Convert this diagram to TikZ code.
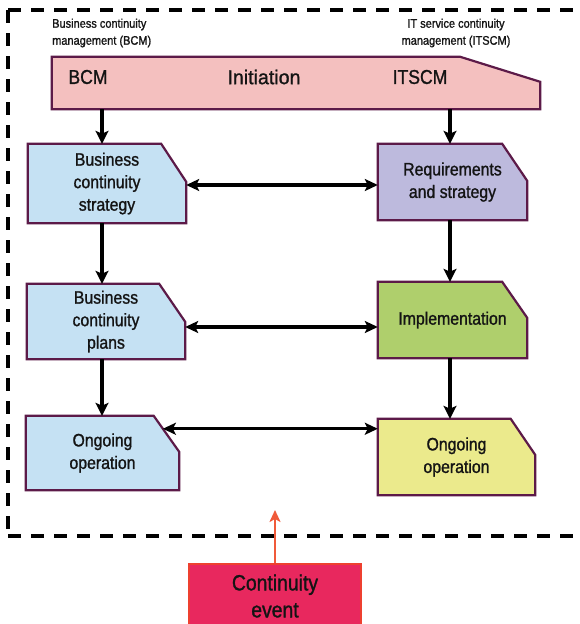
\documentclass[tikz,border=0pt]{standalone}
\usepackage{fontspec}
\setmainfont{Liberation Sans}[FakeStretch=0.88,FakeBold=1.2]
\usetikzlibrary{arrows.meta,backgrounds,calc}

\definecolor{ink}{RGB}{20,20,20}
\definecolor{edge}{RGB}{92,26,72}
\definecolor{initfill}{RGB}{244,192,191}
\definecolor{bcmfill}{RGB}{197,225,243}
\definecolor{reqfill}{RGB}{189,186,221}
\definecolor{implfill}{RGB}{175,207,108}
\definecolor{opfill}{RGB}{235,234,140}
\definecolor{eventfill}{RGB}{232,40,94}
\definecolor{eventedge}{RGB}{238,64,48}
\definecolor{eventarrow}{RGB}{240,90,58}

% chamfered outline behind a named node: name, chamfer width, chamfer height, fill
\newcommand\chamferoutline[4]{%
  \filldraw[fill=#4, draw=edge, line width=2.2pt, line join=miter]
    (#1.south west) -- (#1.north west) -- ([xshift=-#2]#1.north east)
    -- ([yshift=-#3]#1.north east) -- (#1.south east) -- cycle;}

\begin{document}
\begin{tikzpicture}[x=1pt,y=-1pt,
  stage/.style={inner sep=0pt, align=center, text=ink,
    font=\fontsize{18}{22.5}\selectfont},
  headtext/.style={inner sep=0pt, text=ink, font=\fontsize{20}{24}\selectfont},
  note/.style={inner sep=0pt, text=ink, font=\fontsize{12.5}{17}\selectfont},
  head/.style={Stealth[length=13pt,width=13pt,inset=3pt]},
  link/.style={line width=3.2pt, draw=black, -{Stealth[length=13pt,width=13pt,inset=3pt]}},
  twoway/.style={line width=3.2pt, draw=black,
    {Stealth[length=13pt,width=12pt,inset=3pt]}-{Stealth[length=13pt,width=12pt,inset=3pt]}},
  frame/.style={line width=3.8pt, draw=black, dash pattern=on 13pt off 10pt}]
\useasboundingbox (0,0) rectangle (580,624);

% dashed boundary of the continuity management scope
\draw[frame] (8,10) -- (590,10);
\draw[frame] (8,10) -- (8,536);
\draw[frame] (8,536) -- (590,536);

% column guides for the vertical flow
\coordinate (colL) at (102,0);
\coordinate (colR) at (450,0);

% headings
\node[note, align=left, anchor=west] (bcmhead) at (52,33) {Business continuity\\management (BCM)};
\node[note, align=center] (itscmhead) at (456,33) {IT service continuity\\management (ITSCM)};

% initiation band
\node[minimum width=488pt, minimum height=52pt, inner sep=0pt] (init) at (296,83) {};
\node[headtext] (initbcm) at (88,77) {BCM};
\node[headtext, font=\fontsize{20}{24}\selectfont\addfontfeatures{FakeStretch=0.98}] (initmid) at (264,77) {Initiation};
\node[headtext] (inititscm) at (420,77) {ITSCM};

% BCM column
\node[stage, minimum width=158pt, minimum height=79pt] (bcs) at (107,183.5) {Business\\continuity\\strategy};
\node[stage, minimum width=158pt, minimum height=75pt] (bcp) at (106,321.5) {Business\\continuity\\plans};
\node[stage, minimum width=153pt, minimum height=74pt] (opL) at (102.5,453) {Ongoing\\operation};

% ITSCM column
\node[stage, minimum width=149pt, minimum height=76pt] (req) at (452.5,182) {Requirements\\and strategy};
\node[stage, minimum width=149pt, minimum height=76pt] (impl) at (452.5,320) {Implementation};
\node[stage, minimum width=157pt, minimum height=76pt] (opR) at (456.5,457) {Ongoing\\operation};

% trigger
\node[minimum width=172pt, minimum height=64pt, inner sep=0pt, fill=eventfill,
  draw=eventedge, line width=1.5pt, align=center, text=ink,
  font=\fontsize{22}{27}\selectfont] (event) at (275,596) {Continuity\\event};

\begin{pgfonlayer}{background}
  \chamferoutline{init}{80pt}{25pt}{initfill}
  \chamferoutline{bcs}{25pt}{38pt}{bcmfill}
  \chamferoutline{bcp}{26pt}{38pt}{bcmfill}
  \chamferoutline{opL}{25.5pt}{36pt}{bcmfill}
  \chamferoutline{req}{25pt}{37pt}{reqfill}
  \chamferoutline{impl}{25pt}{36pt}{implfill}
  \chamferoutline{opR}{24.5pt}{36pt}{opfill}
\end{pgfonlayer}

% vertical flow
\draw[link] (init.south -| colL) -- (bcs.north -| colL);
\draw[link] (bcs.south -| colL) -- (bcp.north -| colL);
\draw[link] (bcp.south -| colL) -- (opL.north -| colL);
\draw[link] (init.south -| colR) -- (req.north -| colR);
\draw[link] (req.south -| colR) -- (impl.north -| colR);
\draw[link] (impl.south -| colR) -- (opR.north -| colR);

% links between the two disciplines
\coordinate (rowA) at (0,185);
\coordinate (rowB) at (0,327);
\draw[twoway] (bcs.east |- rowA) -- (req.west |- rowA);
\draw[twoway] (bcp.east |- rowB) -- (impl.west |- rowB);
\coordinate (opLa) at ([xshift=-25.5pt]opL.north east);
\coordinate (opLb) at ([yshift=-36pt]opL.north east);
\coordinate (opLc) at ($(opLa)!0.36!(opLb)$);
\draw[twoway] (opLc) -- (opR.west |- opLc);

% continuity event entering the scope
\coordinate (hit) at (275,510);
\draw[line width=2.4pt, draw=eventarrow,
  -{Stealth[length=12pt,width=11pt,inset=3pt]}] (event.north) -- (hit);
\end{tikzpicture}
\end{document}
